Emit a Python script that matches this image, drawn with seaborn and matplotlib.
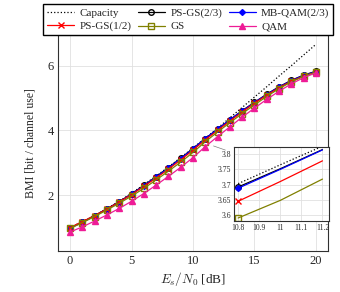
import matplotlib
matplotlib.use("Agg")
import matplotlib.pyplot as plt
import seaborn as sns

# data
snr_db = [0, 1, 2, 3, 4, 5, 6, 7, 8, 9, 10, 11, 12, 13, 14, 15, 16, 17, 18, 19, 20]
capacity = [1.00, 1.18, 1.37, 1.58, 1.81, 2.06, 2.32, 2.59, 2.87, 3.16, 3.46,
            3.76, 4.07, 4.39, 4.71, 5.03, 5.35, 5.68, 6.00, 6.33, 6.66]
ps_gs_23 = [0.99, 1.17, 1.37, 1.58, 1.80, 2.04, 2.30, 2.57, 2.85, 3.14, 3.44,
            3.75, 4.04, 4.33, 4.61, 4.87, 5.12, 5.35, 5.55, 5.71, 5.83]
mb_qam_23 = [0.98, 1.16, 1.36, 1.57, 1.79, 2.03, 2.29, 2.56, 2.84, 3.13, 3.43,
             3.75, 4.04, 4.33, 4.60, 4.86, 5.11, 5.34, 5.54, 5.70, 5.82]
ps_gs_12 = [1.00, 1.18, 1.37, 1.57, 1.79, 2.02, 2.27, 2.53, 2.80, 3.09, 3.39,
            3.71, 4.00, 4.29, 4.57, 4.84, 5.09, 5.32, 5.52, 5.68, 5.80]
gs = [0.97, 1.15, 1.34, 1.54, 1.75, 1.97, 2.21, 2.47, 2.74, 3.02, 3.32,
      3.65, 3.95, 4.24, 4.52, 4.79, 5.05, 5.29, 5.50, 5.67, 5.80]
qam = [0.86, 1.02, 1.20, 1.39, 1.59, 1.81, 2.05, 2.31, 2.58, 2.86, 3.16,
       3.50, 3.81, 4.11, 4.41, 4.69, 4.96, 5.21, 5.44, 5.63, 5.78]

# zoomed region
zoom_snr = [10.8, 11.0, 11.2]
zoom_capacity = [3.703, 3.765, 3.826]
zoom_ps_gs_23 = [3.692, 3.752, 3.815]
zoom_mb_qam_23 = [3.688, 3.750, 3.814]
zoom_ps_gs_12 = [3.645, 3.710, 3.778]
zoom_gs = [3.590, 3.648, 3.718]
zoom_qam = [3.45, 3.51, 3.56]

sns.set_style("whitegrid")
plt.rcParams["font.family"] = ["Liberation Serif", "DejaVu Serif"]
plt.rcParams["mathtext.fontset"] = "cm"
plt.rcParams["axes.edgecolor"] = "#303030"
plt.rcParams["grid.color"] = "#e0e0e0"
plt.rcParams["grid.linewidth"] = 0.6

pink = "#ee1c96"
olive = "#808000"
series = [
    ("Capacity", capacity, zoom_capacity, dict(color="black", linestyle=":", marker=None)),
    ("PS-GS(2/3)", ps_gs_23, zoom_ps_gs_23, dict(color="black", marker="o", mfc="none", mec="black")),
    ("MB-QAM(2/3)", mb_qam_23, zoom_mb_qam_23, dict(color="blue", marker="D", mfc="blue", mec="blue", markersize=3)),
    ("PS-GS(1/2)", ps_gs_12, zoom_ps_gs_12, dict(color="red", marker="x", mec="red")),
    ("GS", gs, zoom_gs, dict(color=olive, marker="s", mfc="none", mec=olive)),
    ("QAM", qam, zoom_qam, dict(color=pink, marker="^", mfc=pink, mec=pink)),
]

fig = plt.figure(figsize=(3.4, 2.92), dpi=100)
ax = fig.add_axes([0.170, 0.140, 0.795, 0.740])

for label, values, _, style in series:
    kw = dict(style)
    kw.setdefault("markersize", 4)
    sns.lineplot(x=snr_db, y=values, ax=ax, label=label, linewidth=0.9,
                 markeredgewidth=1.0, **kw)

ax.set_xlim(-1, 21)
ax.set_ylim(0.27, 6.95)
ax.set_xticks([0, 5, 10, 15, 20])
ax.set_yticks([2, 4, 6])
ax.tick_params(labelsize=9, direction="in", length=2, pad=3)
ax.set_xlabel("$E_s/N_0$ [dB]", fontsize=9.5, labelpad=2)
ax.set_ylabel("BMI [bit / channel use]", fontsize=8.5, labelpad=8)
for s in ax.spines.values():
    s.set_linewidth(0.8)

handles, labels = ax.get_legend_handles_labels()
ax.get_legend().remove()
# legend fills column by column: reorder so rows read like the reference
order = [0, 3, 1, 4, 2, 5]
fig.legend([handles[i] for i in order], [labels[i] for i in order],
           loc="center", bbox_to_anchor=(0.554, 0.932), ncol=3,
           fontsize=8, frameon=True, fancybox=False, framealpha=1, edgecolor="black",
           handlelength=2.4, columnspacing=0.6, handletextpad=0.5, borderpad=0.35,
           labelspacing=0.3)

# inset
axin = fig.add_axes([0.688, 0.243, 0.279, 0.253])
for label, _, values, style in series:
    kw = dict(style)
    kw.setdefault("markersize", 4)
    sns.lineplot(x=zoom_snr, y=values, ax=axin, linewidth=0.9, markevery=[0],
                 markeredgewidth=1.0, legend=False, **kw)
axin.set_xlim(10.78, 11.23)
axin.set_ylim(3.58, 3.823)
axin.set_xticks([10.8, 10.9, 11.0, 11.1, 11.2])
axin.set_xticklabels(["10.8", "10.9", "11", "11.1", "11.2"])
axin.set_yticks([3.6, 3.65, 3.7, 3.75, 3.8])
axin.set_yticklabels(["3.6", "3.65", "3.7", "3.75", "3.8"])
axin.tick_params(labelsize=5.5, direction="in", length=1.5, pad=2)
axin.set_xlabel("")
axin.set_ylabel("")
for s in axin.spines.values():
    s.set_linewidth(0.8)

ax.annotate("", xy=(11.46, 3.55), xycoords="data",
            xytext=(228 / 340, 1 - 151 / 292), textcoords="figure fraction",
            arrowprops=dict(arrowstyle="-", color="gray", linewidth=0.5))

fig.savefig("out.png", dpi=100)
